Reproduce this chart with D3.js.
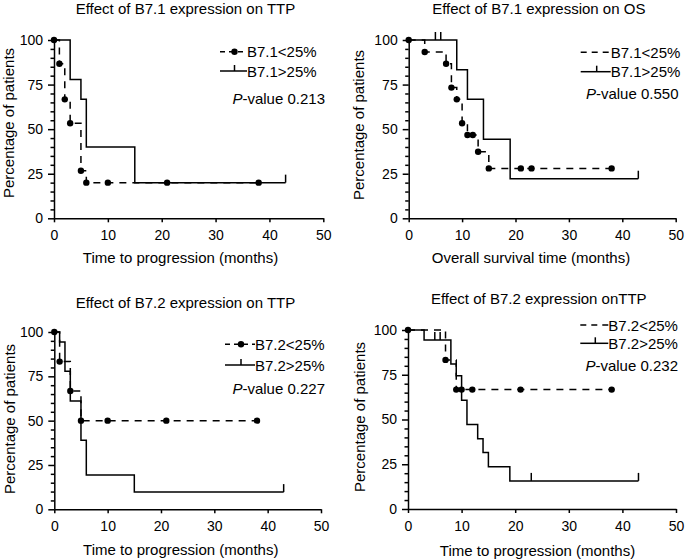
<!DOCTYPE html>
<html><head><meta charset="utf-8">
<script src="https://cdn.jsdelivr.net/npm/d3@7/dist/d3.min.js"></script>
<style>
html,body{margin:0;padding:0;background:#fff;}
svg{display:block;font-family:"Liberation Sans",Arial,Helvetica,sans-serif;}
</style>
</head><body>
<svg id="chart" width="685" height="559"></svg>
<script>
// ---------- DATA ----------
const titles = ["Effect of B7.1 expression on TTP", "Effect of B7.1 expression on OS",
                "Effect of B7.2 expression on TTP", "Effect of B7.2 expression onTTP"];
const xLabels = ["Time to progression (months)", "Overall survival time (months)",
                 "Time to progression (months)", "Time to progression (months)"];
const yLabel = "Percentage of patients";
const lowLabels = ["B7.1<25%", "B7.1<25%", "B7.2<25%", "B7.2<25%"];
const highLabels = ["B7.1>25%", "B7.1>25%", "B7.2>25%", "B7.2>25%"];
const pValues = ["0.213", "0.550", "0.227", "0.232"];
const xTicks = [0, 10, 20, 30, 40, 50];
const yTicks = [0, 25, 50, 75, 100];
const yMinorTicks = [5, 10, 15, 20, 30, 35, 40, 45, 55, 60, 65, 70, 80, 85, 90, 95];

// Panel A: B7.1 TTP
const lowStepTimeA = [0, 1, 2, 3, 5, 6, 38];
const lowStepPctA  = [100, 86.7, 66.7, 53.3, 26.7, 20, 20];
const lowDotTimeA  = [0, 1, 2, 3, 5, 6, 10, 21, 38];
const lowDotPctA   = [100, 86.7, 66.7, 53.3, 26.7, 20, 20, 20, 20];
const highStepTimeA = [0, 3, 5, 6, 15, 43];
const highStepPctA  = [100, 77.8, 66.7, 40, 20, 20];
const highCensTimeA = [43];
const highCensPctA  = [20];

// Panel B: B7.1 OS
const lowStepTimeB = [0, 3, 7, 8, 9, 10, 11, 13, 15, 38];
const lowStepPctB  = [100, 93.3, 86.7, 73.3, 66.7, 53.3, 46.7, 37.3, 28, 28];
const lowDotTimeB  = [0, 3, 7, 8, 9, 10, 11, 12, 13, 15, 21, 23, 38];
const lowDotPctB   = [100, 93.3, 86.7, 73.3, 66.7, 53.3, 46.7, 46.7, 37.3, 28, 28, 28, 28];
const highStepTimeB = [0, 9, 11, 14, 19, 43];
const highStepPctB  = [100, 83.3, 66.7, 44.4, 22.2, 22.2];
const highCensTimeB = [5, 6, 43];
const highCensPctB  = [100, 100, 22.2];

// Panel C: B7.2 TTP
const lowStepTimeC = [0, 1, 3, 5, 38];
const lowStepPctC  = [100, 83.3, 66.7, 50, 50];
const lowDotTimeC  = [0, 1, 3, 5, 10, 21, 38];
const lowDotPctC   = [100, 83.3, 66.7, 50, 50, 50, 50];
const highStepTimeC = [0, 1, 2, 3, 5, 6, 15, 43];
const highStepPctC  = [100, 94.4, 77.8, 61.1, 38.9, 19.4, 9.7, 9.7];
const highCensTimeC = [43];
const highCensPctC  = [9.7];

// Panel D: B7.2 (second)
const lowStepTimeD = [0, 7, 9, 38];
const lowStepPctD  = [100, 83.3, 66.7, 66.7];
const lowDotTimeD  = [0, 7, 9, 10, 12, 21, 38];
const lowDotPctD   = [100, 83.3, 66.7, 66.7, 66.7, 66.7, 66.7];
const highStepTimeD = [0, 3, 8, 9, 10, 11, 13, 14, 15, 19, 43];
const highStepPctD  = [100, 94.4, 81, 74.5, 60.7, 47.2, 39.3, 31.5, 23.6, 15.7, 15.7];
const highCensTimeD = [5, 6, 23, 43];
const highCensPctD  = [94.4, 94.4, 15.7, 15.7];

// ---------- LAYOUT ----------
const layout = [
  {x0: 54, x1: 323.3, y0: 218.3, y1: 40, tX: 185.5, tY: 14, xlX: 180.5, xlY: 263, ylX: 13.5, ylY: 123,
   legX: 247, legW: 27, leg1: 51.7, leg2: 71, pEnd: 325, pY: 98.5, dotInLegend: true},
  {x0: 408.7, x1: 675.7, y0: 218.3, y1: 40, tX: 538.8, tY: 14, xlX: 531, xlY: 263, ylX: 364, ylY: 125,
   legX: 610.7, legW: 30, leg1: 52.3, leg2: 71.7, pEnd: 678.5, pY: 93.3, dotInLegend: false},
  {x0: 54.3, x1: 321, y0: 509.3, y1: 332, tX: 185.5, tY: 308, xlX: 180.8, xlY: 555, ylX: 15, ylY: 419,
   legX: 255, legW: 30, leg1: 344.3, leg2: 365, pEnd: 325, pY: 388.3, dotInLegend: true},
  {x0: 408, x1: 676, y0: 509, y1: 330, tX: 538.8, tY: 304, xlX: 537.5, xlY: 556, ylX: 365, ylY: 417,
   legX: 608.3, legW: 28, leg1: 325, leg2: 343.3, pEnd: 678, pY: 365, dotInLegend: false}
];

const series = [
  {ls: [lowStepTimeA, lowStepPctA], ld: [lowDotTimeA, lowDotPctA], hs: [highStepTimeA, highStepPctA], hc: [highCensTimeA, highCensPctA]},
  {ls: [lowStepTimeB, lowStepPctB], ld: [lowDotTimeB, lowDotPctB], hs: [highStepTimeB, highStepPctB], hc: [highCensTimeB, highCensPctB]},
  {ls: [lowStepTimeC, lowStepPctC], ld: [lowDotTimeC, lowDotPctC], hs: [highStepTimeC, highStepPctC], hc: [highCensTimeC, highCensPctC]},
  {ls: [lowStepTimeD, lowStepPctD], ld: [lowDotTimeD, lowDotPctD], hs: [highStepTimeD, highStepPctD], hc: [highCensTimeD, highCensPctD]}
];

const zip = (a, b) => a.map((v, i) => [v, b[i]]);
const INK = "#000";
const LW = 1.5;
const svg = d3.select("#chart");

layout.forEach((L, i) => {
  const x = d3.scaleLinear().domain([0, 50]).range([L.x0, L.x1]);
  const y = d3.scaleLinear().domain([0, 100]).range([L.y0, L.y1]);
  const g = svg.append("g");
  const S = series[i];

  // title
  g.append("text").attr("x", L.tX).attr("y", L.tY).attr("text-anchor", "middle")
    .attr("font-size", 15).attr("fill", INK).text(titles[i]);

  // axes
  const xa = g.append("g").attr("transform", `translate(0,${L.y0})`)
    .call(d3.axisBottom(x).tickValues(xTicks).tickSize(4).tickPadding(8).tickSizeOuter(0));
  const ya = g.append("g").attr("transform", `translate(${L.x0},0)`)
    .call(d3.axisLeft(y).tickValues(yTicks).tickSize(6).tickPadding(5).tickSizeOuter(0));
  const ym = g.append("g").attr("transform", `translate(${L.x0},0)`)
    .call(d3.axisLeft(y).tickValues(yMinorTicks).tickSize(3.5).tickFormat("").tickSizeOuter(0));
  [xa, ya, ym].forEach(a => {
    a.selectAll("path,line").attr("stroke", INK).attr("stroke-width", LW);
    a.selectAll("text").attr("font-size", 14).attr("fill", INK).attr("font-family", null);
  });
  ym.select("path").remove();

  // axis labels
  g.append("text").attr("x", L.xlX).attr("y", L.xlY).attr("text-anchor", "middle")
    .attr("font-size", 15).attr("fill", INK).text(xLabels[i]);
  g.append("text").attr("transform", `translate(${L.ylX},${L.ylY}) rotate(-90)`)
    .attr("text-anchor", "middle").attr("font-size", 15).attr("fill", INK).text(yLabel);

  const step = d3.line().x(d => x(d[0])).y(d => y(d[1])).curve(d3.curveStepAfter);

  // high (solid) curve
  g.append("path").datum(zip(S.hs[0], S.hs[1])).attr("d", step)
    .attr("fill", "none").attr("stroke", INK).attr("stroke-width", LW);
  g.selectAll(null).data(zip(S.hc[0], S.hc[1])).enter().append("line")
    .attr("x1", d => x(d[0])).attr("x2", d => x(d[0]))
    .attr("y1", d => y(d[1])).attr("y2", d => y(d[1]) - 8)
    .attr("stroke", INK).attr("stroke-width", LW);

  // low (dashed) curve
  g.append("path").datum(zip(S.ls[0], S.ls[1])).attr("d", step)
    .attr("fill", "none").attr("stroke", INK).attr("stroke-width", LW)
    .attr("stroke-dasharray", "7,6");
  g.selectAll(null).data(zip(S.ld[0], S.ld[1])).enter().append("circle")
    .attr("cx", d => x(d[0])).attr("cy", d => y(d[1])).attr("r", 3.2).attr("fill", INK);

  // legend
  const lx0 = L.legX - L.legW, lx1 = L.legX;
  g.append("line").attr("x1", lx0).attr("x2", lx1).attr("y1", L.leg1).attr("y2", L.leg1)
    .attr("stroke", INK).attr("stroke-width", LW).attr("stroke-dasharray", L.dotInLegend ? "5,4" : "6,5");
  if (L.dotInLegend) {
    g.append("circle").attr("cx", (lx0 + lx1) / 2 + 1).attr("cy", L.leg1).attr("r", 3.2).attr("fill", INK);
  }
  g.append("line").attr("x1", lx0).attr("x2", lx1).attr("y1", L.leg2).attr("y2", L.leg2)
    .attr("stroke", INK).attr("stroke-width", LW);
  g.append("line").attr("x1", (lx0 + lx1) / 2 + 1).attr("x2", (lx0 + lx1) / 2 + 1)
    .attr("y1", L.leg2).attr("y2", L.leg2 - 6).attr("stroke", INK).attr("stroke-width", LW);
  g.append("text").attr("x", lx1).attr("y", L.leg1 + 5.5).attr("font-size", 15).attr("fill", INK).text(lowLabels[i]);
  g.append("text").attr("x", lx1).attr("y", L.leg2 + 5.5).attr("font-size", 15).attr("fill", INK).text(highLabels[i]);
  const pt = g.append("text").attr("x", L.pEnd).attr("y", L.pY + 5.5).attr("text-anchor", "end")
    .attr("font-size", 15).attr("fill", INK);
  pt.append("tspan").attr("font-style", "italic").text("P");
  pt.append("tspan").text("-value " + pValues[i]);
});
</script>
</body></html>
